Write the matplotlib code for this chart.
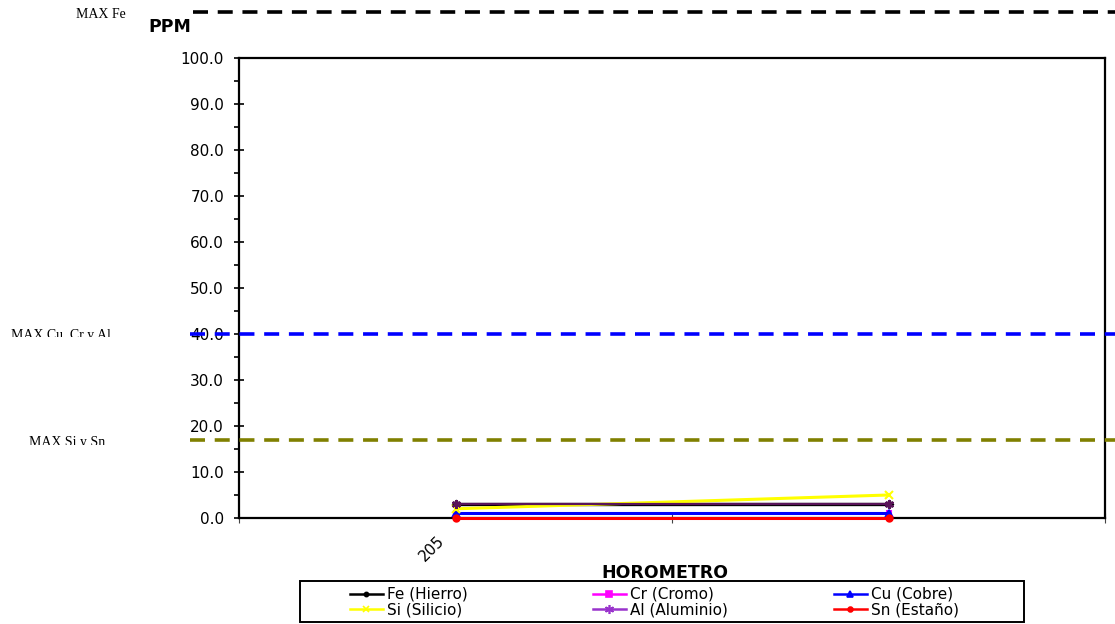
import matplotlib
matplotlib.use("Agg")
import matplotlib.pyplot as plt
from matplotlib.lines import Line2D
from matplotlib.patches import Rectangle
from matplotlib.ticker import FormatStrFormatter, MultipleLocator
from matplotlib.transforms import (Bbox, TransformedBbox,
                                   blended_transform_factory, ScaledTranslation)

plt.rcParams['lines.scale_dashes'] = False

# ---- data -------------------------------------------------------------
horometro = ["205", ""]

fe = [3, 3]
cr = [1, 1]
cu = [1, 1]
si = [2, 5]
al = [3, 3]
sn = [0, 0]

max_fe = 110
max_cu_cr_al = 40
max_si_sn = 17

# ---- figure -----------------------------------------------------------
W, H = 1115, 624
fig = plt.figure(figsize=(W / 100, H / 100), dpi=100)


def fx(px):
    return px / W


def fy(py):
    return 1 - py / H


ax = fig.add_axes([fx(239), fy(518), fx(1105) - fx(239), fy(58) - fy(518)])
x = list(range(len(horometro)))

# series: values, label, line colour, legend colour, marker, size, lw
series = [
    (fe, "Fe (Hierro)", "black", "black", "D", 3.5, 2.4),
    (cr, "Cr (Cromo)", "#FF00FF", "#FF00FF", "s", 3.5, 2.0),
    (cu, "Cu (Cobre)", "#0000FF", "#0000FF", "^", 5, 2.2),
    (si, "Si (Silicio)", "#FFFF00", "#FFFF00", "x", 6, 2.2),
    (al, "Al (Aluminio)", "#5A145A", "#9933CC", (6, 2, 0), 6.5, 1.6),
    (sn, "Sn (Estaño)", "#FF0000", "#FF0000", "o", 4.5, 2.2),
]

for vals, lab, col, _, mk, ms, lw in series:
    ax.plot(x, vals, color=col, lw=lw, marker=mk, markersize=ms,
            markeredgewidth=1.5, markerfacecolor=col, markeredgecolor=col,
            clip_on=False, zorder=3)

# limit lines reaching beyond the plotting area
blend = blended_transform_factory(fig.transFigure, ax.transData)
limits = [
    (max_fe, "black", 193),
    (max_cu_cr_al, "#0000FF", 190),
    (max_si_sn, "#808000", 190),
]
for val, col, start in limits:
    ln = Line2D([fx(start), 1.0], [val, val], transform=blend, color=col,
                lw=2.6, linestyle=(0, (10.8, 7.0)), dash_capstyle='butt',
                clip_on=False, zorder=4)
    ax.add_line(ln)

# limit labels (serif, cut at the bottom)
lim_labels = [
    ("MAX Fe", 76, 18, None),
    ("MAX Cu, Cr y Al", 11, 339, 337),
    ("MAX Si y Sn", 29, 446, 444.5),
]
for txt, lx, ly, cut in lim_labels:
    t = fig.text(fx(lx), fy(ly), txt, ha='left', va='baseline',
                 family='Liberation Serif', fontsize=10)
    if cut is not None:
        t.set_clip_box(TransformedBbox(
            Bbox.from_extents(0, fy(cut), fx(239), 1), fig.transFigure))
        t.set_clip_on(True)

# ---- axes -------------------------------------------------------------
ax.set_ylim(0, 100)
ax.set_xlim(-0.5, len(horometro) - 0.5)
ax.set_yticks(range(0, 101, 10))
ax.yaxis.set_major_formatter(FormatStrFormatter('%.1f'))
ax.yaxis.set_minor_locator(MultipleLocator(5))
ax.tick_params(axis='y', which='major', direction='inout', length=6.5,
               width=1.2, pad=7.5, labelsize=11)
ax.tick_params(axis='y', which='minor', direction='out', length=3.6,
               width=1.2)

ax.set_xticks([i - 0.5 for i in range(len(horometro) + 1)])
ax.set_xticklabels([])
ax.set_xticks(x, labels=horometro, minor=True)
ax.tick_params(axis='x', which='major', direction='inout', length=7,
               width=0.8, color='#444444')
ax.tick_params(axis='x', which='minor', length=0, pad=10.8, labelsize=11)
for lab in ax.xaxis.get_minorticklabels():
    lab.set_rotation(45)
    lab.set_ha('right')
    lab.set_va('top')
    lab.set_transform(lab.get_transform() +
                      ScaledTranslation(-8 / 100, 0, fig.dpi_scale_trans))

for sp in ax.spines.values():
    sp.set_linewidth(1.6)
    sp.set_color('black')

fig.text(fx(148), fy(32), "PPM", ha='left', va='baseline',
         fontweight='bold', fontsize=12.5)
fig.text(fx(665), fy(578), "HOROMETRO", ha='center', va='baseline',
         fontweight='bold', fontsize=12.5)

# ---- legend -----------------------------------------------------------
legend_marker = {"Fe (Hierro)": ("o", 3), "Cr (Cromo)": ("s", 4),
                 "Cu (Cobre)": ("^", 4.5), "Si (Silicio)": ("x", 5),
                 "Al (Aluminio)": ((6, 2, 0), 6.5), "Sn (Estaño)": ("o", 3.5)}
proxies = []
for vals, lab, _, lcol, _, _, lw in series:
    mk, ms = legend_marker[lab]
    proxies.append(Line2D([], [], color=lcol, lw=1.8, marker=mk,
                          markersize=ms, markeredgewidth=1.2,
                          markerfacecolor=lcol, markeredgecolor=lcol,
                          label=lab))

fig.add_artist(Rectangle((fx(300), fy(622)), fx(1024) - fx(300),
                         fy(581) - fy(622), transform=fig.transFigure,
                         fill=False, lw=1.4, ec='black'))

col_x = [350, 593, 834]
for ci, cx in enumerate(col_x):
    hs = [proxies[ci], proxies[ci + 3]]
    fig.legend(handles=hs, loc='center left',
               bbox_to_anchor=(fx(cx), fy(602)),
               bbox_transform=fig.transFigure, frameon=False,
               borderpad=0, borderaxespad=0, handlelength=2.15,
               handletextpad=0.26, labelspacing=0.02, fontsize=11,
               numpoints=1)

fig.savefig("out.png", dpi=100)
